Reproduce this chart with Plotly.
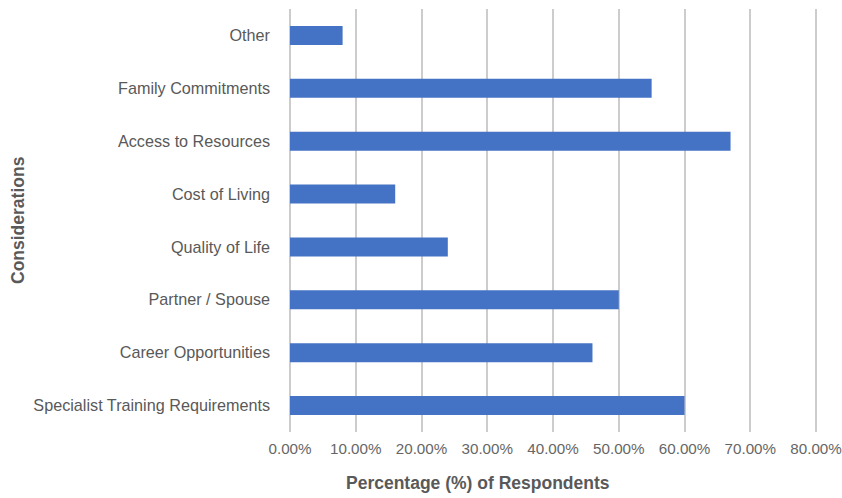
import plotly.graph_objects as go

categories = [
    "Specialist Training Requirements",
    "Career Opportunities",
    "Partner / Spouse",
    "Quality of Life",
    "Cost of Living",
    "Access to Resources",
    "Family Commitments",
    "Other",
]
values = [60, 46, 50, 24, 16, 67, 55, 8]
tick_vals = [0, 10, 20, 30, 40, 50, 60, 70, 80]
tick_text = ["0.00%", "10.00%", "20.00%", "30.00%", "40.00%", "50.00%", "60.00%", "70.00%", "80.00%"]

L, R, T, B = 290, 818, 9, 432

fig = go.Figure(go.Bar(
    x=values, y=categories, orientation="h",
    marker=dict(color="#4472C4", line=dict(width=0)),
    width=0.36,
))

fig.update_layout(
    width=842, height=498,
    margin=dict(l=L, r=842 - R, t=T, b=498 - B),
    paper_bgcolor="white", plot_bgcolor="white",
    showlegend=False,
    font=dict(family="Liberation Sans, Arial, sans-serif", color="#595959"),
    xaxis=dict(
        range=[0, 80.3], tickvals=tick_vals, ticktext=tick_text,
        showgrid=True, gridcolor="#CCCCCC", gridwidth=1.5,
        zeroline=True, zerolinecolor="#CCCCCC", zerolinewidth=1.5,
        showline=False, ticks="",
        tickfont=dict(size=15.2, color="#666666"),
        ticklabelstandoff=6,
        ticklabeloverflow="allow",
        automargin=False,
        fixedrange=True,
    ),
    yaxis=dict(
        type="category", categoryorder="array", categoryarray=categories,
        range=[-0.5, 7.5],
        showgrid=False, zeroline=False, showline=False, ticks="",
        tickfont=dict(size=16.2, color="#595959"),
        ticklabelstandoff=19,
        automargin=False,
        fixedrange=True,
    ),
    annotations=[
        dict(text="<b>Percentage (%) of Respondents</b>", xref="paper", yref="paper",
             x=(478 - L) / (R - L), y=-(483 - B) / (B - T),
             xanchor="center", yanchor="middle", showarrow=False,
             font=dict(size=17.5, color="#595959")),
        dict(text="<b>Considerations</b>", xref="paper", yref="paper",
             x=-(L - 18) / (R - L), y=(B - 220) / (B - T),
             xanchor="center", yanchor="middle", showarrow=False, textangle=-90,
             font=dict(size=17.5, color="#595959")),
    ],
)

fig.write_html("out.html")
